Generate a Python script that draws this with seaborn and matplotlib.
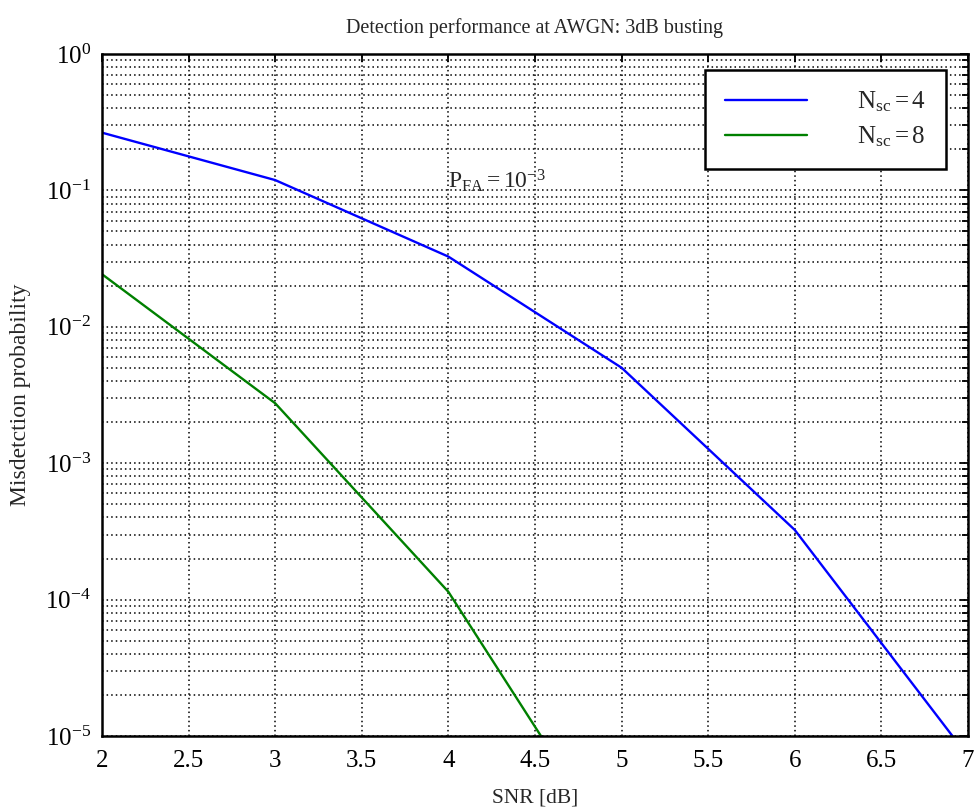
import numpy as np
import pandas as pd
import matplotlib
matplotlib.use("Agg")
import matplotlib.pyplot as plt
import seaborn as sns
from matplotlib.ticker import LogLocator, NullFormatter

# Data
snr_nsc4 = [2, 3, 4, 5, 6, 7]
pmd_nsc4 = [0.265, 0.119, 0.0327, 0.00501, 3.24e-4, 7.1e-6]
snr_nsc8 = [2, 3, 4, 5]
pmd_nsc8 = [0.0243, 0.00275, 1.14e-4, 1.2e-6]
labels = [r"$\mathrm{N_{sc}=4}$", r"$\mathrm{N_{sc}=8}$"]
colors = ["#0000ff", "#008000"]
xticks = [2, 2.5, 3, 3.5, 4, 4.5, 5, 5.5, 6, 6.5, 7]

df = pd.concat([
    pd.DataFrame({"SNR": snr_nsc4, "Pmd": pmd_nsc4, "series": labels[0]}),
    pd.DataFrame({"SNR": snr_nsc8, "Pmd": pmd_nsc8, "series": labels[1]}),
])

sns.set_style("white")
plt.rcParams["font.family"] = ["Liberation Serif", "DejaVu Serif"]
plt.rcParams["mathtext.fontset"] = "custom"
plt.rcParams["mathtext.rm"] = "Liberation Serif"
plt.rcParams["mathtext.it"] = "Liberation Serif:italic"
plt.rcParams["mathtext.bf"] = "Liberation Serif:bold"

fig = plt.figure(figsize=(9.75, 8.07), dpi=100)
ax = fig.add_axes([0.1046, 0.0880, 0.8882, 0.8451])

sns.lineplot(data=df, x="SNR", y="Pmd", hue="series", palette=colors,
             linewidth=1.7, ax=ax, sort=False, estimator=None)

ax.set_yscale("log")
ax.set_xlim(2, 7)
ax.set_ylim(1e-5, 1)
ax.set_xticks(xticks)
ax.set_xticklabels([f"{t:g}" for t in xticks])
ax.yaxis.set_major_locator(LogLocator(base=10, numticks=10))
ax.yaxis.set_minor_locator(LogLocator(base=10, subs=np.arange(2, 10), numticks=20))
ax.yaxis.set_minor_formatter(NullFormatter())

ax.grid(True, which="major", axis="both", color="black", linestyle=(0, (1, 2)), linewidth=1.1)
ax.grid(True, which="minor", axis="y", color="black", linestyle=(0, (1, 2)), linewidth=1.1)

for s in ax.spines.values():
    s.set_color("black")
    s.set_linewidth(1.8)

ax.tick_params(axis="both", which="both", direction="in", top=True, right=True,
               colors="black", labelsize=18)
ax.tick_params(axis="x", which="major", length=6, width=1.3, pad=10)
ax.tick_params(axis="y", which="major", length=6, width=1.3, pad=8)
ax.tick_params(axis="y", which="minor", length=4, width=1.3)

ax.set_title("Detection performance at AWGN: 3dB busting", fontsize=14.5, pad=15)
ax.set_xlabel("SNR [dB]", fontsize=15.5, labelpad=12)
ax.set_ylabel("Misdetction probability", fontsize=17, labelpad=10)

ax.text(4.0, 0.118, r"$\mathrm{P_{FA}=10^{-3}}$", fontsize=17, va="center", ha="left")

leg = ax.legend(loc="upper right", bbox_to_anchor=(0.975, 0.977), fontsize=18,
                handlelength=3.3, handletextpad=2.0, borderpad=0.8,
                labelspacing=0.4, fancybox=False, framealpha=1, borderaxespad=0)
leg.get_frame().set_edgecolor("black")
leg.get_frame().set_linewidth(1.8)
leg.set_title(None)

fig.savefig("out.png", dpi=100)
